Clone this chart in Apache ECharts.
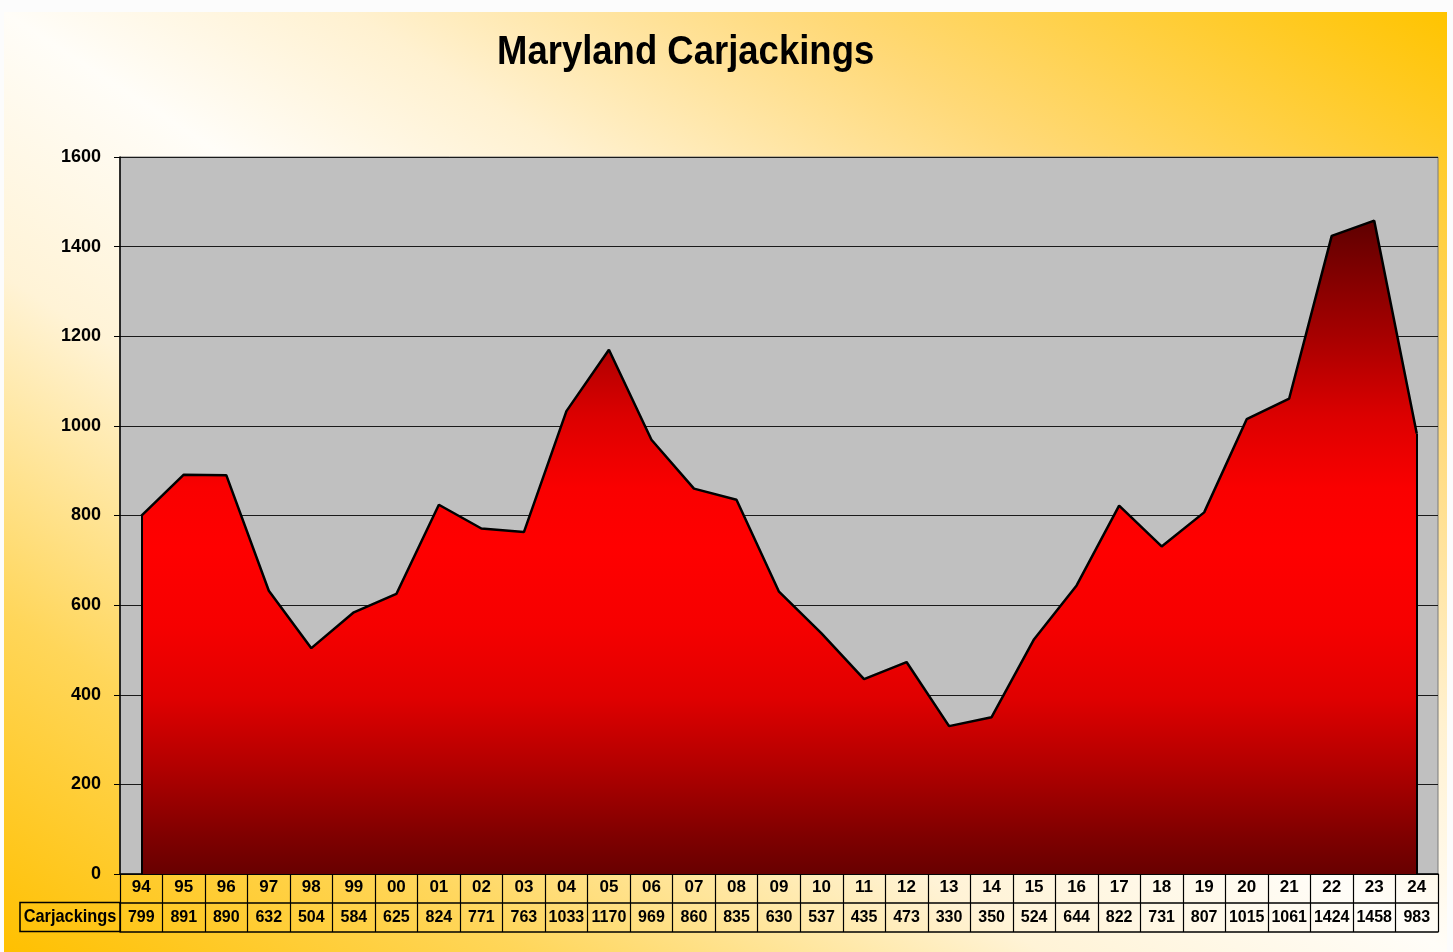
<!DOCTYPE html>
<html>
<head>
<meta charset="utf-8">
<title>Maryland Carjackings</title>
<script src="https://cdn.jsdelivr.net/npm/echarts@6/dist/echarts.min.js"></script>
<style>
  html, body { margin: 0; padding: 0; background: #fcfcfc; }
  #chart {
    position: absolute;
    left: 4px;
    top: 12px;
    width: 1443px;
    height: 940px;
    background: linear-gradient(to top right, #ffc000 0%, #ffd65a 18%, #fff3d6 36%, #fffdf8 50%, #fff1d0 62%, #ffd978 78%, #ffc400 100%);
  }
</style>
</head>
<body>
<div id="chart"></div>
<script>
const years = ['94', '95', '96', '97', '98', '99', '00', '01', '02', '03', '04', '05', '06', '07', '08', '09',
  '10', '11', '12', '13', '14', '15', '16', '17', '18', '19', '20', '21', '22', '23', '24'];
const carjackings = [799, 891, 890, 632, 504, 584, 625, 824, 771, 763, 1033, 1170, 969, 860, 835, 630,
  537, 435, 473, 330, 350, 524, 644, 822, 731, 807, 1015, 1061, 1424, 1458, 983];
const yTicks = { min: 0, max: 1600, interval: 200 };

const sans = '"Liberation Sans", Arial, sans-serif';
const last = years.length - 1;

const chart = echarts.init(document.getElementById('chart'));

const option = {
  backgroundColor: 'transparent',
  animation: false,
  grid: {
    left: 116,
    right: 9,
    top: 145,
    bottom: 78,
    show: true,
    backgroundColor: '#c0c0c0',
    borderColor: '#7a7a7a',
    borderWidth: 1
  },
  graphic: [
    {
      type: 'text',
      left: 493,
      top: 20,
      scaleX: 0.89,
      style: {
        text: 'Maryland Carjackings',
        font: 'bold 41px ' + sans,
        fill: '#000'
      }
    },
    {
      type: 'rect',
      shape: { x: 16, y: 890.5, width: 100, height: 29 },
      style: { fill: 'transparent', stroke: '#000', lineWidth: 1.5 }
    },
    {
      type: 'text',
      x: 66,
      y: 905,
      scaleX: 0.86,
      style: {
        text: 'Carjackings',
        font: 'bold 19px ' + sans,
        fill: '#000',
        align: 'center',
        verticalAlign: 'middle'
      }
    }
  ],
  xAxis: [
    {
      type: 'category',
      data: years,
      position: 'bottom',
      boundaryGap: true,
      axisLine: { lineStyle: { color: '#000', width: 1.5 } },
      axisTick: { show: true, length: 58, lineStyle: { color: '#000', width: 1.2 } },
      axisLabel: {
        color: '#000',
        fontFamily: sans,
        fontWeight: 'bold',
        fontSize: 17,
        margin: 5,
        interval: 0
      },
      splitLine: { show: false }
    },
    {
      type: 'category',
      data: carjackings.map(String),
      position: 'bottom',
      offset: 29,
      boundaryGap: true,
      axisLine: { lineStyle: { color: '#000', width: 1.5 } },
      axisTick: { show: false },
      axisLabel: {
        color: '#000',
        fontFamily: sans,
        fontWeight: 'bold',
        fontSize: 16,
        margin: 7,
        interval: 0
      }
    },
    {
      type: 'category',
      data: years,
      position: 'bottom',
      offset: 58,
      axisLine: { lineStyle: { color: '#000', width: 1.5 } },
      axisTick: { show: false },
      axisLabel: { show: false }
    }
  ],
  yAxis: {
    type: 'value',
    min: yTicks.min,
    max: yTicks.max,
    interval: yTicks.interval,
    axisLine: { show: true, lineStyle: { color: '#000', width: 1.5 } },
    axisTick: { show: true, length: 6, lineStyle: { color: '#000' } },
    axisLabel: {
      color: '#000',
      fontFamily: sans,
      fontWeight: 'bold',
      fontSize: 18,
      margin: 19,
      formatter: (v) => String(v)
    },
    splitLine: { show: true, lineStyle: { color: '#1a1a1a', width: 1.2 } }
  },
  series: [
    {
      name: 'Carjackings',
      type: 'line',
      xAxisIndex: 0,
      data: carjackings,
      symbol: 'none',
      z: 3,
      lineStyle: { color: '#000', width: 2.5 },
      areaStyle: {
        opacity: 1,
        color: new echarts.graphic.LinearGradient(0, 0, 0, 1, [
          { offset: 0, color: '#5e0000' },
          { offset: 0.05, color: '#740000' },
          { offset: 0.18, color: '#a80000' },
          { offset: 0.3, color: '#dc0000' },
          { offset: 0.41, color: '#fa0000' },
          { offset: 0.5, color: '#ff0000' },
          { offset: 0.62, color: '#f60000' },
          { offset: 0.73, color: '#e00000' },
          { offset: 0.84, color: '#b00000' },
          { offset: 0.94, color: '#800000' },
          { offset: 1, color: '#680000' }
        ])
      },
      markLine: {
        silent: true,
        symbol: ['none', 'none'],
        label: { show: false },
        lineStyle: { color: '#000', width: 2, type: 'solid' },
        data: [
          [{ coord: [years[0], 0] }, { coord: [years[0], carjackings[0]] }],
          [{ coord: [years[last], 0] }, { coord: [years[last], carjackings[last]] }]
        ]
      }
    }
  ]
};

chart.setOption(option);
window.addEventListener('resize', () => chart.resize());
</script>
</body>
</html>
